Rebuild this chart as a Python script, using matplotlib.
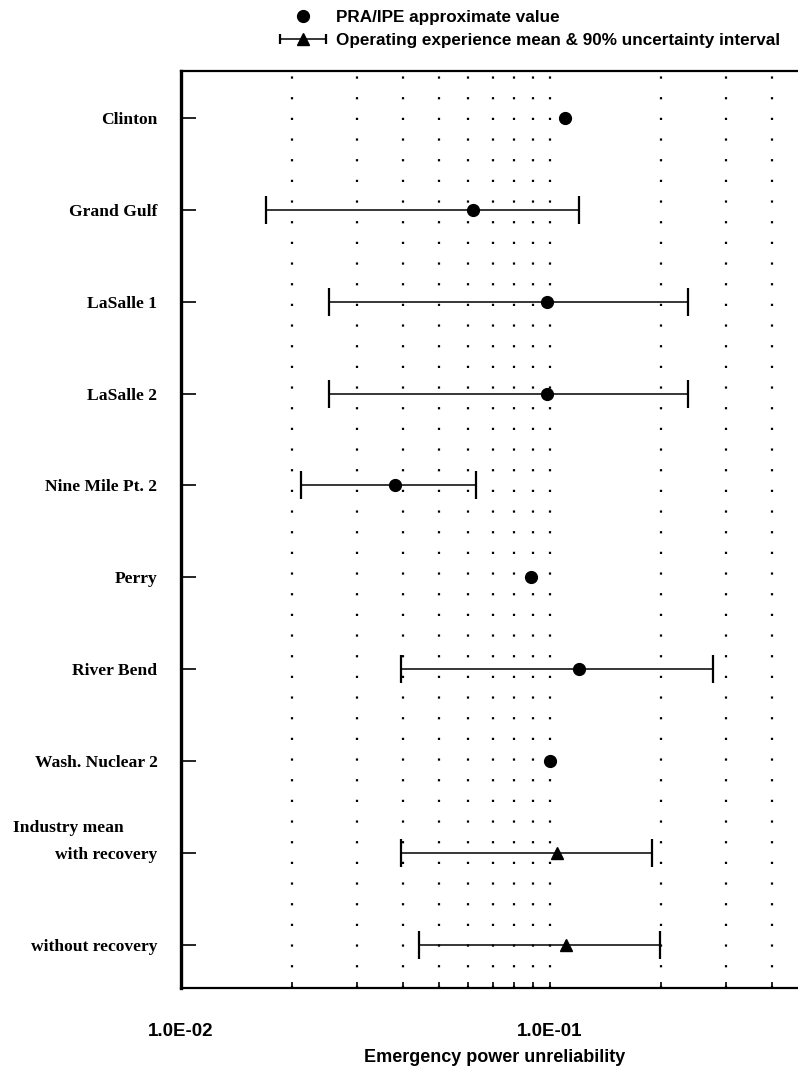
import matplotlib
matplotlib.use('Agg')
import matplotlib.pyplot as plt
import matplotlib.ticker as mticker
import matplotlib.transforms as mtransforms
from matplotlib.legend_handler import HandlerErrorbar
from matplotlib.lines import Line2D

# plant names (top to bottom)
plants = ['Clinton', 'Grand Gulf', 'LaSalle 1', 'LaSalle 2', 'Nine Mile Pt. 2',
          'Perry', 'River Bend', 'Wash. Nuclear 2', 'with recovery', 'without recovery']

# PRA/IPE approximate values (rows 0-7)
pra_value = [0.110, 0.062, 0.098, 0.098, 0.038, 0.089, 0.120, 0.100]

# operating experience: row index, 5% and 95% bounds
oe_rows = [1, 2, 3, 4, 6]
oe_low = [0.0170, 0.0252, 0.0252, 0.0211, 0.0394]
oe_high = [0.120, 0.237, 0.237, 0.063, 0.277]

# industry mean rows (triangles)
ind_rows = [8, 9]
ind_mean = [0.1045, 0.1105]
ind_low = [0.0394, 0.0442]
ind_high = [0.189, 0.199]

major_ticks = [0.01, 0.1]
minor_ticks = [0.02, 0.03, 0.04, 0.05, 0.06, 0.07, 0.08, 0.09, 0.2, 0.3, 0.4]

W, H = 798, 1069
fig = plt.figure(figsize=(W / 100, H / 100), dpi=100)
ax = fig.add_axes([181 / W, 1 - 988 / H, 627 / W, (988 - 71) / H])

sans = 'Liberation Sans'
serif = 'Liberation Serif'

# PRA dots
pra_rows = list(range(len(pra_value)))
dots, = ax.plot(pra_value, pra_rows, 'o', color='black', markersize=8.5,
                zorder=4, label='PRA/IPE approximate value')

# plant intervals, no centre marker (the dot is the PRA value)
mids = [pra_value[r] for r in oe_rows]
xerr = [[m - lo for m, lo in zip(mids, oe_low)], [hi - m for m, hi in zip(mids, oe_high)]]
ax.errorbar(mids, oe_rows, xerr=xerr, fmt='none', ecolor='black',
            elinewidth=1.1, capsize=10, capthick=1.6, zorder=3)

# industry mean with interval
ierr = [[m - lo for m, lo in zip(ind_mean, ind_low)], [hi - m for m, hi in zip(ind_mean, ind_high)]]
tri = ax.errorbar(ind_mean, ind_rows, xerr=ierr, fmt='^', color='black',
                  markersize=9, ecolor='black', elinewidth=1.1, capsize=10,
                  capthick=1.6, zorder=3,
                  label='Operating experience mean & 90% uncertainty interval')

ax.set_xscale('log')
ax.set_xlim(0.01, 0.5)
ax.set_ylim(9.47, -0.51)

ax.xaxis.set_major_locator(mticker.FixedLocator(major_ticks))
ax.xaxis.set_minor_locator(mticker.FixedLocator(minor_ticks))
ax.xaxis.set_major_formatter(mticker.FuncFormatter(lambda v, p: '%.1E' % v))
ax.xaxis.set_minor_formatter(mticker.NullFormatter())
ax.tick_params(axis='x', which='both', direction='in', length=4, width=1.2, pad=25,
               labelsize=13.5)
for lbl in ax.get_xticklabels():
    lbl.set_fontfamily(sans)
    lbl.set_fontweight('bold')

ax.grid(True, which='both', axis='x', color='black', linewidth=1.6,
        linestyle=(0, (1, 8.3)))

ax.set_yticks(range(len(plants)))
ax.set_yticklabels(plants, fontfamily=serif, fontweight='bold', fontsize=12.6)
ax.tick_params(axis='y', direction='in', length=11, width=1.2, pad=17)

ax.spines['left'].set_linewidth(2.4)
ax.spines['bottom'].set_linewidth(1.6)
ax.spines['top'].set_linewidth(1.6)
ax.spines['right'].set_visible(False)

trans = mtransforms.blended_transform_factory(fig.transFigure, ax.transData)
ax.text(13 / W, 7.73, 'Industry mean', transform=trans, ha='left', va='center',
        fontfamily=serif, fontweight='bold', fontsize=12.6)

ax.set_xlabel('Emergency power unreliability', fontfamily=sans, fontweight='bold',
              fontsize=13, labelpad=7)

leg = fig.legend(handles=[dots, tri], loc='upper left',
                 bbox_to_anchor=(262 / W, 1 + 5 / H),
                 frameon=False, prop={'family': sans, 'size': 12.3, 'weight': 'bold'},
                 handlelength=3.0, handletextpad=0.45, labelspacing=0.45,
                 handler_map={type(tri): HandlerErrorbar(xerr_size=1.35)})
# smaller caps in the legend key
for ln in leg.findobj(Line2D):
    if ln.get_marker() == '|':
        ln.set_markersize(7)

fig.savefig('out.png', dpi=100)
